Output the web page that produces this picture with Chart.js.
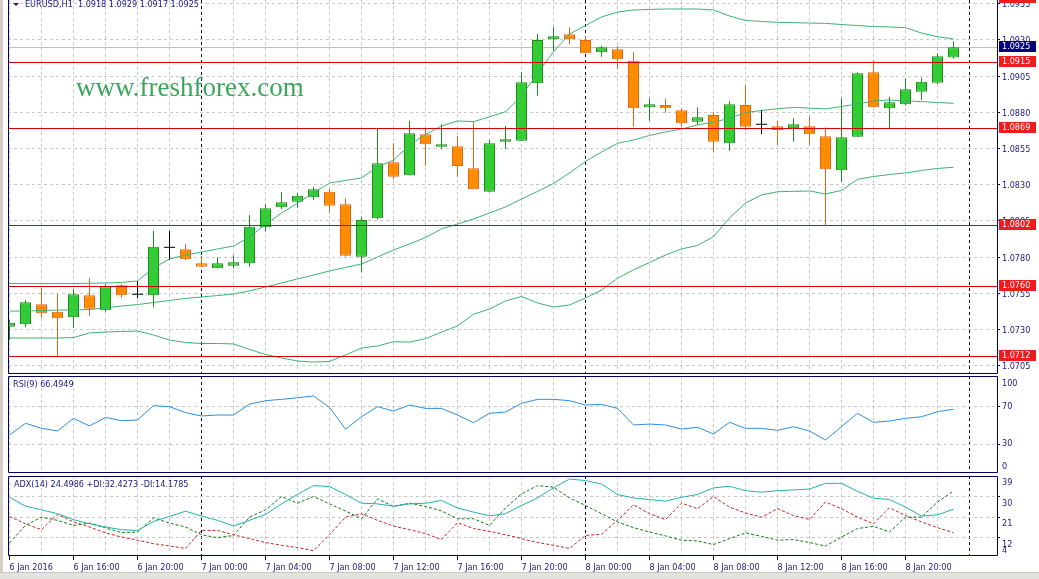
<!DOCTYPE html>
<html>
<head>
<meta charset="utf-8">
<title>EURUSD H1</title>
<script src="https://cdn.jsdelivr.net/npm/chart.js@4.4.1/dist/chart.umd.min.js"></script>
<style>
  html, body { margin: 0; padding: 0; background: #fff; }
  #wrap { position: relative; width: 1039px; height: 579px; overflow: hidden; background: #fff; }
  #wrap canvas { position: absolute; left: 0; }
  #frame { position: absolute; left: 0; top: 0; width: 3px; height: 579px; background: #d4d0c8; }
  #status { position: absolute; left: 0; top: 572px; width: 1039px; height: 7px; background: #e4e2dc; border-top: 1px solid #c8c6c0; }
</style>
</head>
<body>
<div id="wrap">
  <canvas id="chart-price" width="1039" height="374" style="top:0"></canvas>
  <canvas id="chart-rsi" width="1039" height="99" style="top:375px"></canvas>
  <canvas id="chart-adx" width="1039" height="104" style="top:475px"></canvas>
  <div id="frame"></div>
  <div id="status"></div>
</div>
<script>
'use strict';
// one bar per hour, bar 0 = 6 Jan 2016 12:00, bar 59 = 8 Jan 23:00
var opens = [1.07320, 1.07337, 1.07475, 1.07424, 1.07385, 1.07537, 1.07433, 1.07606, 1.07544, 1.07537,
  1.07868, 1.07855, 1.07758, 1.07723, 1.07741, 1.07758, 1.08007, 1.08145, 1.08183, 1.08214,
  1.08252, 1.08165, 1.07803, 1.08069, 1.08455, 1.08366, 1.08649, 1.08563, 1.08566, 1.08414,
  1.08252, 1.08598, 1.08605, 1.09001, 1.09305, 1.09339, 1.09300, 1.09215, 1.09236, 1.09157,
  1.08835, 1.08851, 1.08815, 1.08736, 1.08782, 1.08587, 1.08851, 1.08718, 1.08704, 1.08690,
  1.08704, 1.08635, 1.08400, 1.08632, 1.09077, 1.08828, 1.08856, 1.08943, 1.09005, 1.09180];
var highs = [1.07366, 1.07504, 1.07589, 1.07546, 1.07578, 1.07658, 1.07615, 1.07615, 1.07636, 1.07981,
  1.07981, 1.07889, 1.07808, 1.07799, 1.07813, 1.08091, 1.08167, 1.08248, 1.08241, 1.08287,
  1.08271, 1.08207, 1.08080, 1.08690, 1.08587, 1.08741, 1.08690, 1.08718, 1.08637, 1.08741,
  1.08609, 1.08706, 1.09077, 1.09341, 1.09388, 1.09388, 1.09328, 1.09261, 1.09259, 1.09215,
  1.08897, 1.08893, 1.08828, 1.08835, 1.08801, 1.08879, 1.08989, 1.08817, 1.08741, 1.08759,
  1.08770, 1.08697, 1.08897, 1.09077, 1.09162, 1.08908, 1.09036, 1.09040, 1.09208, 1.09290];
var lows = [1.07228, 1.07316, 1.07382, 1.07120, 1.07313, 1.07396, 1.07424, 1.07520, 1.07516, 1.07454,
  1.07781, 1.07781, 1.07734, 1.07723, 1.07723, 1.07734, 1.07976, 1.08133, 1.08142, 1.08195,
  1.08103, 1.07803, 1.07696, 1.08062, 1.08338, 1.08366, 1.08432, 1.08545, 1.08356, 1.08269,
  1.08252, 1.08545, 1.08605, 1.08915, 1.09226, 1.09270, 1.09208, 1.09185, 1.09100, 1.08701,
  1.08743, 1.08798, 1.08701, 1.08713, 1.08529, 1.08536, 1.08678, 1.08651, 1.08575, 1.08598,
  1.08575, 1.08020, 1.08321, 1.08632, 1.08835, 1.08690, 1.08846, 1.08886, 1.08996, 1.09170];
var closes = [1.07348, 1.07489, 1.07413, 1.07378, 1.07544, 1.07444, 1.07599, 1.07537, 1.07544, 1.07873,
  1.07868, 1.07786, 1.07734, 1.07758, 1.07765, 1.08011, 1.08138, 1.08179, 1.08225, 1.08269,
  1.08156, 1.07810, 1.08057, 1.08449, 1.08356, 1.08656, 1.08580, 1.08580, 1.08430, 1.08269,
  1.08587, 1.08614, 1.09008, 1.09300, 1.09326, 1.09305, 1.09208, 1.09250, 1.09167, 1.08828,
  1.08856, 1.08828, 1.08725, 1.08766, 1.08598, 1.08856, 1.08701, 1.08718, 1.08678, 1.08718,
  1.08649, 1.08407, 1.08628, 1.09070, 1.08835, 1.08870, 1.08960, 1.09012, 1.09187, 1.09250];

var bbUpper = [1.07618, 1.07618, 1.07618, 1.07618, 1.07618, 1.07620, 1.07622, 1.07625, 1.07636, 1.07725,
  1.07788, 1.07815, 1.07836, 1.07857, 1.07877, 1.07940, 1.08026, 1.08105, 1.08172, 1.08245,
  1.08312, 1.08330, 1.08347, 1.08423, 1.08471, 1.08575, 1.08647, 1.08706, 1.08741, 1.08736,
  1.08770, 1.08805, 1.08913, 1.09069, 1.09219, 1.09341, 1.09400, 1.09459, 1.09493, 1.09507,
  1.09511, 1.09514, 1.09514, 1.09514, 1.09507, 1.09466, 1.09435, 1.09428, 1.09422, 1.09420,
  1.09417, 1.09415, 1.09407, 1.09400, 1.09393, 1.09390, 1.09385, 1.09348, 1.09323, 1.09307];
var bbMiddle = [1.07428, 1.07428, 1.07432, 1.07435, 1.07435, 1.07439, 1.07449, 1.07463, 1.07473, 1.07487,
  1.07501, 1.07515, 1.07525, 1.07535, 1.07546, 1.07567, 1.07594, 1.07622, 1.07650, 1.07677,
  1.07705, 1.07729, 1.07753, 1.07801, 1.07850, 1.07891, 1.07936, 1.07995, 1.08029, 1.08064,
  1.08105, 1.08147, 1.08202, 1.08254, 1.08309, 1.08382, 1.08461, 1.08527, 1.08587, 1.08609,
  1.08641, 1.08665, 1.08685, 1.08713, 1.08734, 1.08758, 1.08799, 1.08813, 1.08826, 1.08834,
  1.08830, 1.08824, 1.08841, 1.08858, 1.08879, 1.08886, 1.08879, 1.08875, 1.08868, 1.08863];
var bbLower = [1.07242, 1.07242, 1.07242, 1.07242, 1.07245, 1.07277, 1.07283, 1.07287, 1.07290, 1.07263,
  1.07228, 1.07211, 1.07204, 1.07204, 1.07201, 1.07163, 1.07128, 1.07104, 1.07083, 1.07076,
  1.07080, 1.07125, 1.07173, 1.07187, 1.07216, 1.07214, 1.07237, 1.07283, 1.07325, 1.07406,
  1.07442, 1.07498, 1.07529, 1.07484, 1.07456, 1.07470, 1.07518, 1.07573, 1.07654, 1.07712,
  1.07763, 1.07815, 1.07857, 1.07881, 1.07942, 1.08071, 1.08174, 1.08230, 1.08252, 1.08255,
  1.08257, 1.08237, 1.08261, 1.08338, 1.08357, 1.08371, 1.08382, 1.08399, 1.08413, 1.08421];

var rsiValues = [39.5, 51.8, 46.5, 43.7, 57, 49, 58, 54.5, 55.3, 70.3,
  69.3, 63, 59.5, 60.5, 60.5, 72, 75.6, 77, 78.7, 80.5,
  68.6, 45.5, 58.7, 69.3, 64.7, 71, 67.5, 67.5, 60.5, 52.4,
  62.3, 63.7, 72.8, 77, 77, 75.6, 71, 71.7, 67.5, 50,
  51, 50, 45.8, 47.6, 40.5, 52.8, 46.5, 46.5, 44.4, 48.2,
  43.7, 34.2, 48.2, 62.3, 52.8, 54.2, 57, 58.7, 64, 66.5];

var adxValues = [29.7, 25.8, 24.2, 22.5, 19.9, 18.1, 16.7, 15.5, 15.2, 19.1,
  21.3, 23.6, 21.5, 19.6, 17.1, 19.6, 22.2, 26.8, 30.9, 34.8,
  34.4, 30.9, 27.1, 26.8, 25.8, 26.8, 27.1, 28.3, 25, 23.2,
  21.6, 22.5, 26.1, 29.4, 33.8, 37.7, 37, 35.5, 30.9, 29.4,
  28.7, 28, 29.7, 30.9, 33.8, 34.5, 32.6, 31.9, 32.6, 32.9,
  33.3, 35.8, 35.8, 32.3, 29.3, 28.7, 25.4, 21.5, 22, 24.5];
var plusDi = [9.7, 17.4, 21, 19.6, 17.4, 18.4, 16.3, 14.2, 14.5, 20.7,
  18.4, 16.7, 13.3, 12, 13, 21, 24.2, 30, 27.1, 30,
  26.8, 23.7, 20.3, 29, 25.7, 27.1, 25.7, 23.7, 20.3, 20.3,
  17.4, 25, 31.2, 34.8, 34.1, 29.4, 26.1, 22.5, 18.9, 16.4,
  14.5, 12.8, 10.9, 10.6, 9, 11.6, 14.1, 12.6, 10.9, 11.2,
  9.9, 8.3, 12.3, 16, 17, 14.5, 21, 21, 27.6, 32.4];
var minusDi = [21.3, 18.1, 15.5, 22.2, 18.9, 16.7, 14.1, 12.3, 10.9, 9.4,
  8.4, 7.3, 15.2, 15.2, 13.3, 11.6, 9.9, 8.7, 7.7, 6.3,
  13.3, 21, 22.5, 19.6, 17.1, 15.5, 13.8, 11.2, 18.6, 16,
  14.8, 13.3, 11.6, 9.9, 8.7, 7.3, 13, 13.5, 19.6, 26.4,
  22.5, 19.9, 27.1, 24.7, 30, 25.4, 22.8, 21, 24.7, 21.7,
  20, 27.6, 24.7, 21, 18.1, 25.1, 21.7, 18.9, 16.4, 14.2];

// one label every 4 bars
var timeLabels = ['6 Jan 2016', '6 Jan 16:00', '6 Jan 20:00', '7 Jan 00:00', '7 Jan 04:00',
  '7 Jan 08:00', '7 Jan 12:00', '7 Jan 16:00', '7 Jan 20:00', '8 Jan 00:00', '8 Jan 04:00',
  '8 Jan 08:00', '8 Jan 12:00', '8 Jan 16:00', '8 Jan 20:00'];
var priceTicks = [1.0705, 1.0730, 1.0755, 1.0780, 1.0805, 1.0830, 1.0855, 1.0880, 1.0905, 1.0930, 1.0955];
var hLines = [1.0959, 1.0915, 1.0869, 1.0802, 1.0760, 1.0712];
var lastPrice = 1.0925;
var rsiTicks = [100, 70, 30, 0];
var rsiGrid = [70, 30];
var adxTicks = [39, 30, 21, 12, 4];
var adxGrid = [30, 21, 12];
var daySeparators = [12, 36, 60];

var NAVY = '#1a1a80';
var FRAME = '#00005a';
var GRID = '#c8c8c8';
var BB = '#3cb371';
var FONT = '"DejaVu Sans Condensed", "Liberation Sans", Arial, sans-serif';
var X_MIN = -0.09375, X_MAX = 61.71875;

Chart.defaults.font.family = FONT;
Chart.defaults.font.size = 9;
Chart.defaults.color = NAVY;
Chart.defaults.animation = false;

function pts(arr) { return arr.map(function(v, i) { return { x: i, y: v }; }); }

function xScale(withLabels) {
  return {
    type: 'linear', min: X_MIN, max: X_MAX, offset: false,
    afterBuildTicks: function(s) {
      var t = [];
      for (var v = 0; v <= 60; v += 2) t.push({ value: v });
      s.ticks = t;
    },
    afterFit: function(s) { s.height = withLabels ? 23 : 0; },
    border: { display: false, dash: [3, 3] },
    grid: {
      offset: false,
      color: function(c) { return daySeparators.indexOf(c.tick.value) >= 0 ? '#000033' : GRID; },
      drawTicks: withLabels,
      tickLength: 4,
      tickColor: function(c) { return c.tick.value % 4 === 0 && c.tick.value < 60 ? FRAME : 'rgba(0,0,0,0)'; },
      tickBorderDash: []
    },
    ticks: {
      display: withLabels, autoSkip: false, maxRotation: 0, minRotation: 0, align: 'start', padding: 2,
      callback: function(v) { return (v % 4 === 0 && v / 4 < timeLabels.length) ? timeLabels[v / 4] : ''; }
    }
  };
}

function yScale(min, max, gridVals) {
  return {
    position: 'right', min: min, max: max,
    afterBuildTicks: function(s) { s.ticks = gridVals.map(function(v) { return { value: v }; }); },
    afterFit: function(s) { s.width = 42; },
    border: { display: false, dash: [3, 3] },
    grid: { color: GRID, tickLength: 3, tickColor: FRAME, tickBorderDash: [] },
    ticks: { display: false }
  };
}

function baseOptions(scales, pad) {
  return {
    responsive: false, maintainAspectRatio: false, devicePixelRatio: 1, events: [],
    layout: { padding: pad, autoPadding: false },
    plugins: { legend: { display: false }, tooltip: { enabled: false } },
    scales: scales
  };
}

function drawFrame(chart, sides) {
  var ctx = chart.ctx, a = chart.chartArea;
  ctx.save();
  ctx.strokeStyle = FRAME; ctx.lineWidth = 1;
  ctx.beginPath();
  var l = a.left + 0.5, r = a.right + 0.5, t = a.top + 0.5, b = a.bottom - 0.5;
  if (sides.top) { ctx.moveTo(l, t); ctx.lineTo(r, t); }
  ctx.moveTo(l, t - (sides.top ? 0 : 1)); ctx.lineTo(l, b);
  ctx.moveTo(r, t - (sides.top ? 0 : 1)); ctx.lineTo(r, b);
  ctx.moveTo(l, b); ctx.lineTo(r, b);
  ctx.stroke();
  ctx.restore();
}

function drawAxisText(chart, items) {
  var ctx = chart.ctx, s = chart.scales.y, a = chart.chartArea;
  ctx.save();
  ctx.font = '9px ' + FONT; ctx.fillStyle = NAVY;
  ctx.textAlign = 'left'; ctx.textBaseline = 'middle';
  items.forEach(function(it) { ctx.fillText(it.text, a.right + 5, s.getPixelForValue(it.value) + it.dy); });
  ctx.restore();
}

function priceBox(chart, value, fill) {
  var ctx = chart.ctx, a = chart.chartArea, y = Math.round(chart.scales.y.getPixelForValue(value));
  ctx.save();
  ctx.fillStyle = fill;
  ctx.fillRect(a.right + 2, y - 6, 37, 11);
  ctx.fillStyle = '#ffffff';
  ctx.font = '9px ' + FONT; ctx.textAlign = 'left'; ctx.textBaseline = 'middle';
  ctx.fillText(value.toFixed(4), a.right + 5, y);
  ctx.restore();
}

// ---- candles ----
var bodies = [], bodyFill = [], bodyLine = [], wicks = [], wickColor = [], dojis = [];
for (var i = 0; i < opens.length; i++) {
  var up = closes[i] >= opens[i];
  wicks.push({ x: i, y: [lows[i], highs[i]] });
  if (opens[i] === closes[i]) { dojis.push({ x: i, y: opens[i] }); wickColor.push('#000000'); continue; }
  bodies.push({ x: i, y: [opens[i], closes[i]] });
  bodyFill.push(up ? '#32cd32' : '#ff8c00');
  bodyLine.push(up ? '#1f8a1f' : '#e0661a');
  wickColor.push(up ? '#1f8a1f' : '#e0661a');
}

var PX_PER_UNIT = 14480;
var priceMax = 1.0930 + 40 / PX_PER_UNIT;
var priceMin = priceMax - 374 / PX_PER_UNIT;

var pricePlugin = {
  id: 'priceDecor',
  beforeDatasetsDraw: function(chart) {
    var ctx = chart.ctx, a = chart.chartArea, y = Math.round(chart.scales.y.getPixelForValue(lastPrice)) + 0.5;
    ctx.save();
    ctx.strokeStyle = '#c0c0c0'; ctx.lineWidth = 1;
    ctx.beginPath(); ctx.moveTo(a.left, y); ctx.lineTo(a.right, y); ctx.stroke();
    ctx.restore();
  },
  afterDatasetsDraw: function(chart) {
    var ctx = chart.ctx, a = chart.chartArea, s = chart.scales.y;
    ctx.save();
    ctx.strokeStyle = '#d40000'; ctx.lineWidth = 1;
    hLines.forEach(function(v) {
      var y = Math.round(s.getPixelForValue(v)) + 0.5;
      if (y < a.top || y > a.bottom) return;
      ctx.beginPath(); ctx.moveTo(a.left, y); ctx.lineTo(a.right, y); ctx.stroke();
    });
    ctx.fillStyle = '#3ca55c';
    ctx.font = '27px "Liberation Serif", "DejaVu Serif", serif';
    ctx.textAlign = 'left'; ctx.textBaseline = 'alphabetic';
    ctx.fillText('www.freshforex.com', 76, 96);
    ctx.fillStyle = NAVY;
    ctx.beginPath(); ctx.moveTo(13, 3); ctx.lineTo(19, 3); ctx.lineTo(16, 6); ctx.closePath(); ctx.fill();
    ctx.font = '9px ' + FONT;
    ctx.fillText('EURUSD,H1  1.0918 1.0929 1.0917 1.0925', 25, 7);
    ctx.restore();
  },
  afterDraw: function(chart) {
    drawAxisText(chart, priceTicks.map(function(v) { return { value: v, text: v.toFixed(4), dy: 1 }; }));
    hLines.forEach(function(v) { priceBox(chart, v, '#ee1c1c'); });
    priceBox(chart, lastPrice, '#000080');
    drawFrame(chart, { top: false });
  }
};

new Chart(document.getElementById('chart-price'), {
  type: 'bar',
  data: {
    datasets: [
      { type: 'line', data: pts(bbUpper), borderColor: BB, borderWidth: 1, pointRadius: 0, tension: 0, order: 0 },
      { type: 'line', data: pts(bbMiddle), borderColor: BB, borderWidth: 1, pointRadius: 0, tension: 0, order: 0 },
      { type: 'line', data: pts(bbLower), borderColor: BB, borderWidth: 1, pointRadius: 0, tension: 0, order: 0 },
      { type: 'line', data: dojis, showLine: false, pointStyle: 'line', pointRadius: 5.5,
        borderColor: '#000000', borderWidth: 1, order: 1 },
      { type: 'bar', data: bodies, backgroundColor: bodyFill, borderColor: bodyLine, borderWidth: 1,
        borderSkipped: false, inflateAmount: 0, barThickness: 11, grouped: false, order: 2 },
      { type: 'bar', data: wicks, backgroundColor: wickColor, borderWidth: 0, inflateAmount: 0,
        barThickness: 1, grouped: false, order: 3 }
    ]
  },
  options: baseOptions({ x: xScale(false), y: yScale(priceMin, priceMax, priceTicks) },
    { left: 8, right: 0, top: 0, bottom: 0 }),
  plugins: [pricePlugin]
});

// ---- RSI ----
var RSI_PX = 0.95;
var rsiMax = 100 + 1.5 / RSI_PX, rsiMin = -0.5 / RSI_PX;
new Chart(document.getElementById('chart-rsi'), {
  type: 'line',
  data: { datasets: [
    { data: pts(rsiValues), borderColor: '#2a8fe0', borderWidth: 1, pointRadius: 0, tension: 0 }
  ] },
  options: baseOptions({ x: xScale(false), y: yScale(rsiMin, rsiMax, rsiGrid) },
    { left: 8, right: 0, top: 1, bottom: 1 }),
  plugins: [{
    id: 'rsiDecor',
    afterDraw: function(chart) {
      var dys = [6, 1, 0, -6];
      drawAxisText(chart, rsiTicks.map(function(v, i) { return { value: v, text: String(v), dy: dys[i] }; }));
      var ctx = chart.ctx;
      ctx.save(); ctx.font = '9px ' + FONT; ctx.fillStyle = NAVY; ctx.textBaseline = 'middle';
      ctx.fillText('RSI(9) 66.4949', 13, 10);
      ctx.restore();
      drawFrame(chart, { top: true });
    }
  }]
});

// ---- ADX ----
new Chart(document.getElementById('chart-adx'), {
  type: 'line',
  data: { datasets: [
    { data: pts(adxValues), borderColor: '#20b2aa', borderWidth: 1, pointRadius: 0, tension: 0 },
    { data: pts(plusDi), borderColor: '#107a10', borderWidth: 1, borderDash: [3, 2], pointRadius: 0, tension: 0 },
    { data: pts(minusDi), borderColor: '#d42020', borderWidth: 1, borderDash: [3, 2], pointRadius: 0, tension: 0 }
  ] },
  options: baseOptions({ x: xScale(true), y: yScale(4, 39, adxGrid) },
    { left: 8, right: 0, top: 1, bottom: 0 }),
  plugins: [{
    id: 'adxDecor',
    afterDraw: function(chart) {
      drawAxisText(chart, adxTicks.map(function(v) { return { value: v, text: String(v), dy: v === 4 ? -5 : 7 }; }));
      var ctx = chart.ctx;
      ctx.save(); ctx.font = '9px ' + FONT; ctx.fillStyle = NAVY; ctx.textBaseline = 'middle';
      ctx.fillText('ADX(14) 24.4986 +DI:32.4273 -DI:14.1785', 14, 10);
      ctx.restore();
      drawFrame(chart, { top: true });
    }
  }]
});
</script>
</body>
</html>
